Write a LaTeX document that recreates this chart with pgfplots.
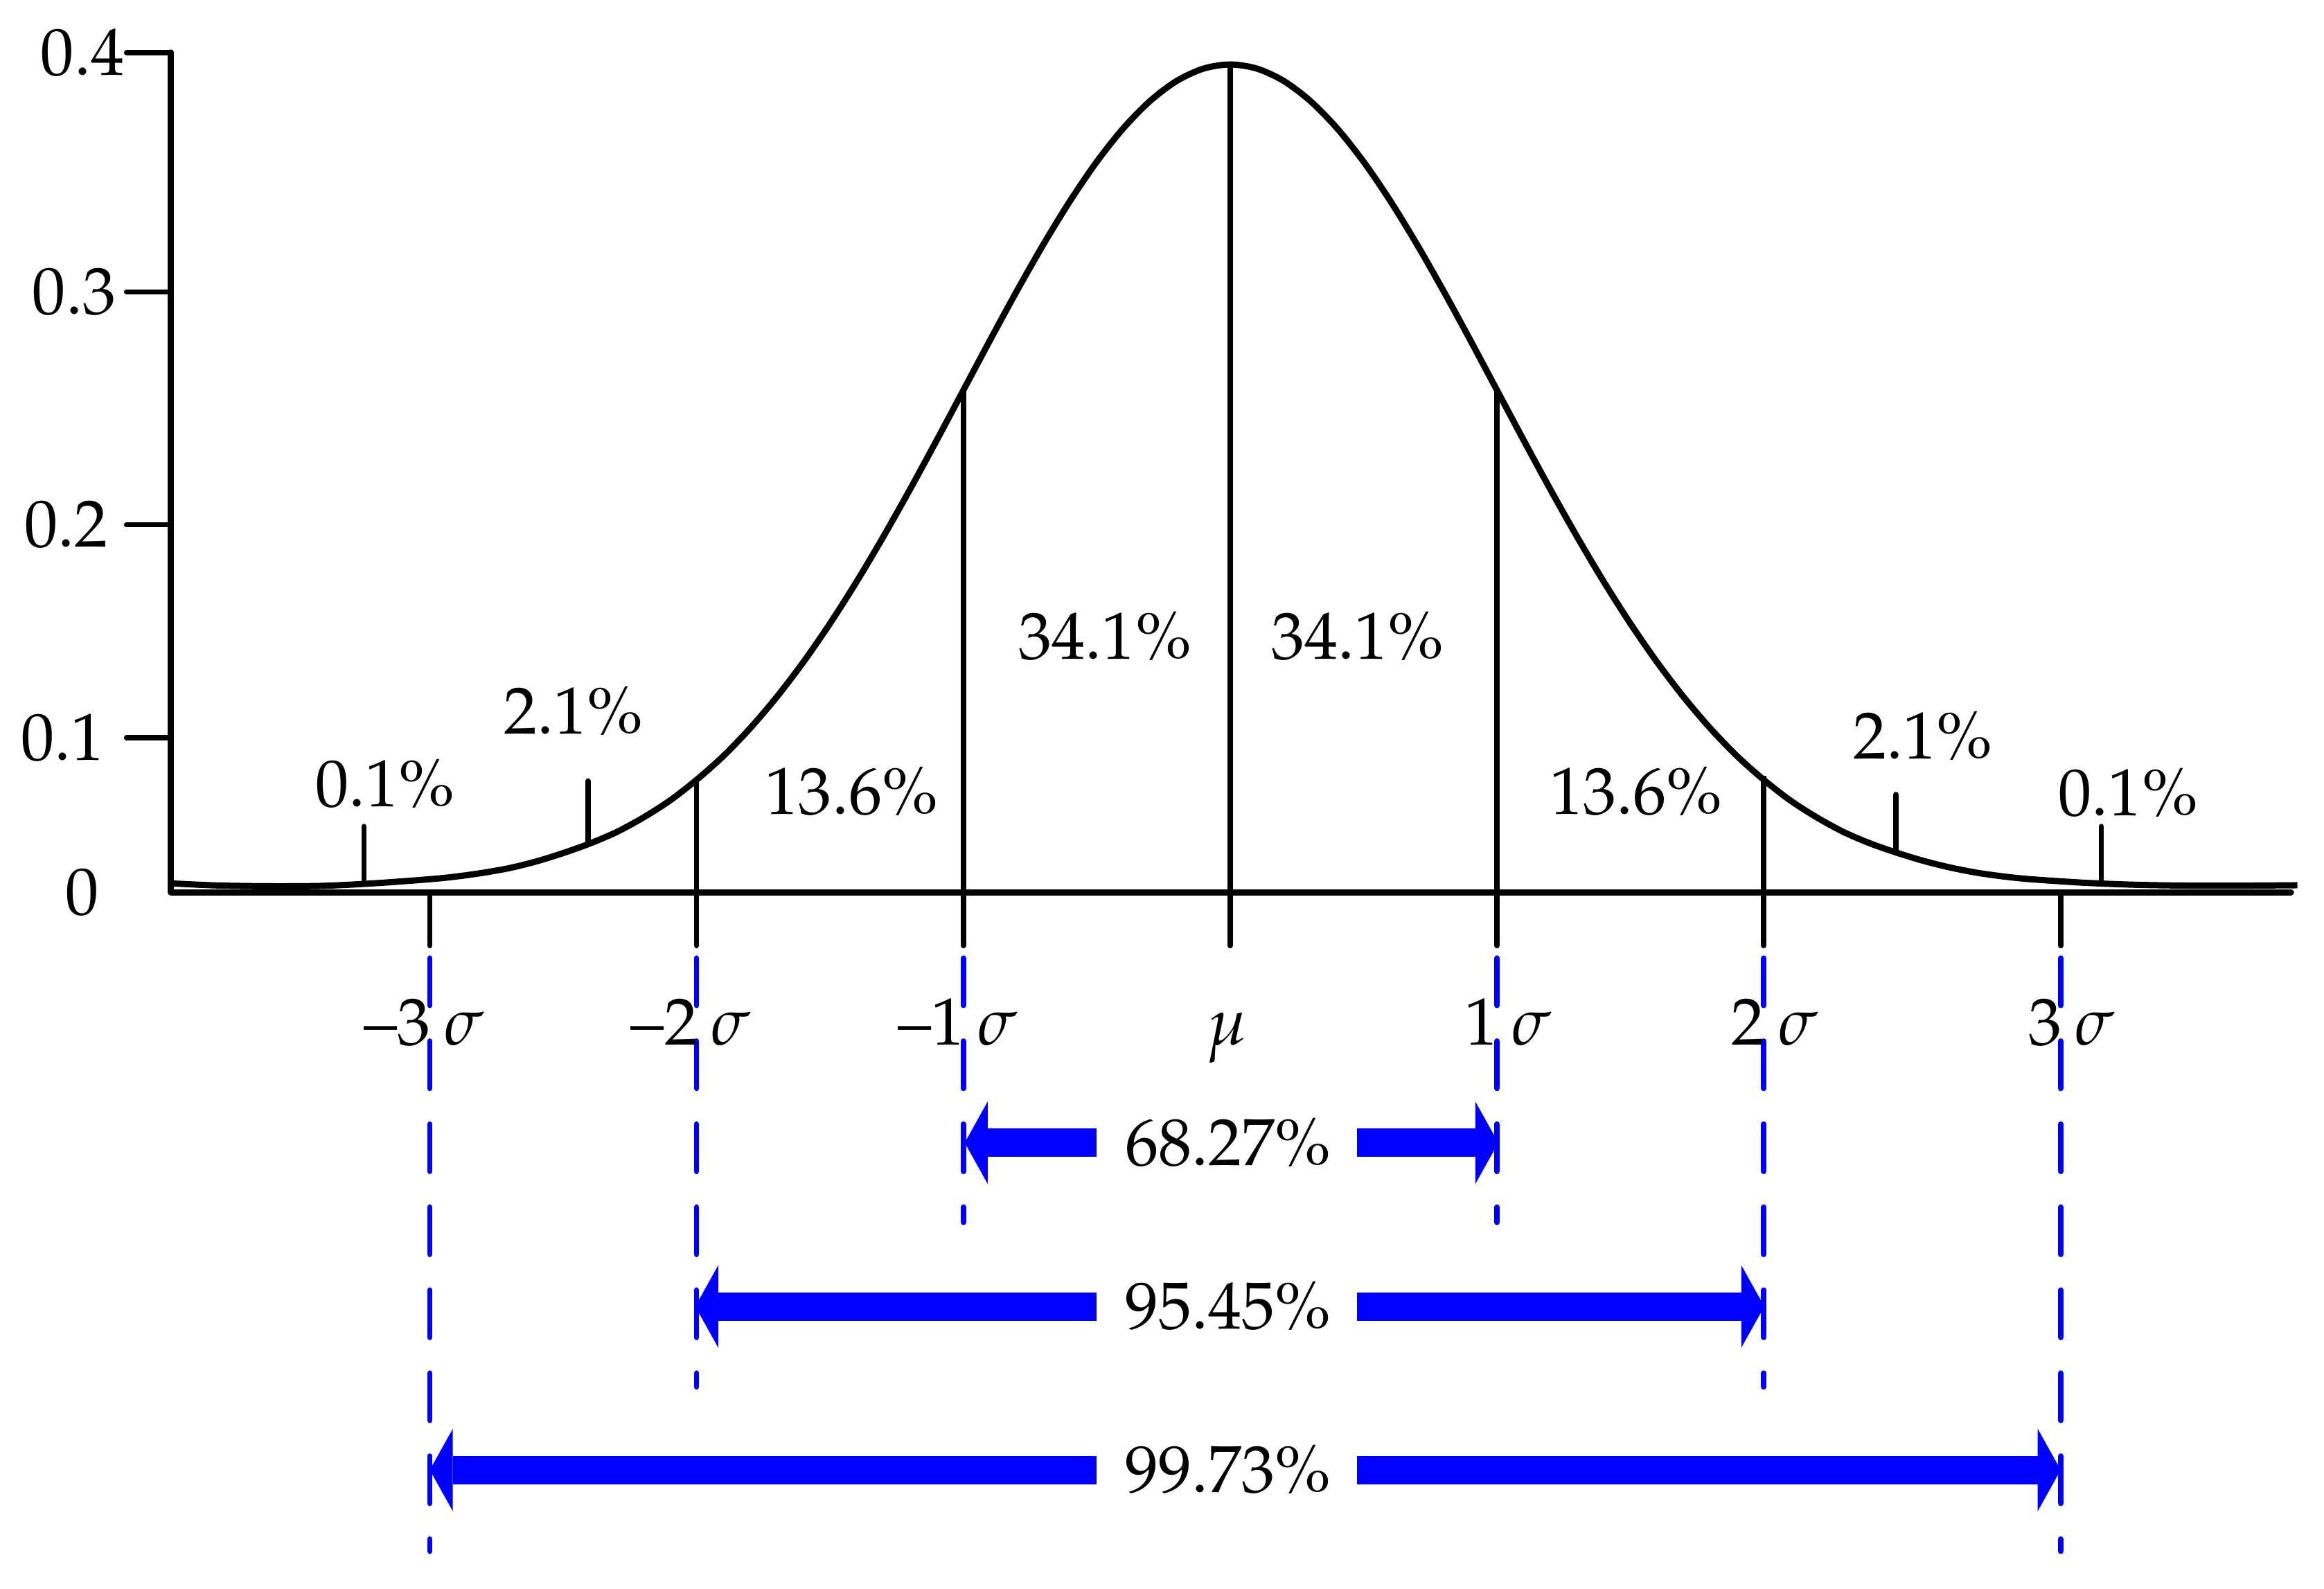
\documentclass[border=0pt]{standalone}
\usepackage[T1]{fontenc}
\usepackage{mathpazo}
\usepackage{pgfplots}
\pgfplotsset{compat=1.18}
\usetikzlibrary{arrows.meta}

\pgfplotstableread{
s y
-3.97 0.0043
-3.8 0.0033
-3.6 0.0029
-3.4 0.0031
-3.2 0.0044
-3.0 0.0063
-2.9 0.0076
-2.8 0.0094
-2.7 0.0117
-2.6 0.0149
-2.5 0.0189
-2.4 0.0235
-2.3 0.0290
-2.2 0.0360
-2.1 0.0442
-2.0 0.0542
-1.9 0.06562
-1.8 0.07895
-1.7 0.09405
-1.6 0.11092
-1.5 0.12952
-1.4 0.14973
-1.3 0.17137
-1.2 0.19419
-1.1 0.21785
-1.0 0.24197
-0.9 0.26609
-0.8 0.28969
-0.7 0.31225
-0.6 0.33322
-0.5 0.35207
-0.4 0.36827
-0.3 0.38139
-0.2 0.39104
-0.1 0.39695
0.0 0.39894
0.1 0.39695
0.2 0.39104
0.3 0.38139
0.4 0.36827
0.5 0.35207
0.6 0.33322
0.7 0.31225
0.8 0.28969
0.9 0.26609
1.0 0.24197
1.1 0.21785
1.2 0.19419
1.3 0.17137
1.4 0.14973
1.5 0.12952
1.6 0.11092
1.7 0.09405
1.8 0.07895
1.9 0.06562
2.0 0.0542
2.1 0.0442
2.2 0.0360
2.3 0.0290
2.4 0.0235
2.5 0.0190
2.6 0.0151
2.7 0.0119
2.8 0.0094
2.9 0.0076
3.0 0.0063
3.2 0.0046
3.4 0.0036
3.6 0.0032
3.8 0.0032
4.0 0.0034
}\curvetable

\begin{document}
\begin{tikzpicture}[font=\fontsize{12.8}{15.4}\selectfont]
\begin{axis}[
  scale only axis,
  width=143.03mm, height=56.66mm,
  xmin=-3.97, xmax=3.976, ymin=0, ymax=0.4047,
  axis lines=left,
  axis line style={-, line width=0.42mm, line cap=round},
  tick align=outside,
  xtick={-3,-2,-1,0,1,2,3.113},
  xticklabels={},
  ytick={0.0745,0.1771,0.2893,0.4047},
  yticklabels={},
  tick style={black, line width=0.36mm, line cap=round},
  xtick style={/pgfplots/major tick length=3.6mm},
  ytick style={/pgfplots/major tick length=3.0mm},
  minor tick num=0,
  clip=false,
]
% bell curve
\addplot[black, line width=0.42mm, smooth, line join=round] table[x=s, y=y] {\curvetable};
% vertical separators
\addplot[black, line width=0.36mm] coordinates {(0,0) (0,0.3989)};
\addplot[black, line width=0.36mm] coordinates {(-1,0) (-1,0.2420)};
\addplot[black, line width=0.36mm] coordinates {(1,0) (1,0.2420)};
\addplot[black, line width=0.36mm] coordinates {(-2,0) (-2,0.0550)};
\addplot[black, line width=0.36mm] coordinates {(2,0) (2,0.0560)};
% small pointer ticks
\addplot[black, line width=0.36mm, line cap=round] coordinates {(-3.247,0.0043) (-3.247,0.0317)};
\addplot[black, line width=0.36mm, line cap=round] coordinates {(-2.407,0.0236) (-2.407,0.0536)};
\addplot[black, line width=0.36mm, line cap=round] coordinates {(2.496,0.0202) (2.496,0.0471)};
\addplot[black, line width=0.36mm, line cap=round] coordinates {(3.265,0.0043) (3.265,0.0317)};
% blue dashed guides
\addplot[blue, line width=0.36mm, line cap=round, dash pattern=on 3.2mm off 2.4mm] coordinates {(-3,-0.0317) (-3,-0.3176)};
\addplot[blue, line width=0.36mm, line cap=round, dash pattern=on 3.2mm off 2.4mm] coordinates {(3.113,-0.0317) (3.113,-0.3176)};
\addplot[blue, line width=0.36mm, line cap=round, dash pattern=on 3.2mm off 2.4mm] coordinates {(-2,-0.0317) (-2,-0.2384)};
\addplot[blue, line width=0.36mm, line cap=round, dash pattern=on 3.2mm off 2.4mm] coordinates {(2,-0.0317) (2,-0.2384)};
\addplot[blue, line width=0.36mm, line cap=round, dash pattern=on 3.2mm off 2.4mm] coordinates {(-1,-0.0317) (-1,-0.1591)};
\addplot[blue, line width=0.36mm, line cap=round, dash pattern=on 3.2mm off 2.4mm] coordinates {(1,-0.0317) (1,-0.1591)};
% blue arrows
\addplot[blue, line width=1.92mm, -{Triangle[width=5.56mm, length=1.55mm, line width=0pt]}] coordinates {(-0.501,-0.1207) (-0.995,-0.1207)};
\addplot[blue, line width=1.92mm, -{Triangle[width=5.56mm, length=1.55mm, line width=0pt]}] coordinates {(0.475,-0.1207) (1.005,-0.1207)};
\addplot[blue, line width=1.92mm, -{Triangle[width=5.56mm, length=1.55mm, line width=0pt]}] coordinates {(-0.501,-0.1996) (-2.005,-0.1996)};
\addplot[blue, line width=1.92mm, -{Triangle[width=5.56mm, length=1.55mm, line width=0pt]}] coordinates {(0.475,-0.1996) (2.002,-0.1996)};
\addplot[blue, line width=1.92mm, -{Triangle[width=5.56mm, length=1.55mm, line width=0pt]}] coordinates {(-0.501,-0.2784) (-3.0,-0.2784)};
\addplot[blue, line width=1.92mm, -{Triangle[width=5.56mm, length=1.55mm, line width=0pt]}] coordinates {(0.475,-0.2784) (3.113,-0.2784)};
% arrow labels
\node at (axis cs:-0.008,-0.1207) {68.27\%};
\node at (axis cs:-0.008,-0.1996) {95.45\%};
\node at (axis cs:-0.008,-0.2784) {99.73\%};
% area percentages
\node[anchor=base] at (axis cs:-3.167,0.0414) {0.1\%};
\node[anchor=base] at (axis cs:-2.461,0.0764) {2.1\%};
\node[anchor=base] at (axis cs:-1.419,0.0375) {13.6\%};
\node[anchor=base] at (axis cs:-0.469,0.1123) {34.1\%};
\node[anchor=base] at (axis cs:0.478,0.1123) {34.1\%};
\node[anchor=base] at (axis cs:1.522,0.0375) {13.6\%};
\node[anchor=base] at (axis cs:2.597,0.0643) {2.1\%};
\node[anchor=base] at (axis cs:3.366,0.0371) {0.1\%};
% y tick labels
\node[anchor=east, inner sep=0pt] at (axis cs:-3.97,0) [xshift=-4.82mm] {0};
\node[anchor=east, inner sep=0pt] at (axis cs:-3.97,0.0745) [xshift=-4.44mm] {0.1};
\node[anchor=east, inner sep=0pt] at (axis cs:-3.97,0.1771) [xshift=-4.19mm] {0.2};
\node[anchor=east, inner sep=0pt] at (axis cs:-3.97,0.2893) [xshift=-3.65mm] {0.3};
\node[anchor=east, inner sep=0pt] at (axis cs:-3.97,0.4047) [xshift=-3.09mm] {0.4};
% x tick labels
\node[anchor=base west, inner sep=0pt] at (axis cs:-3,-0.0736) {\llap{--3}\hspace{0.2em}$\sigma$};
\node[anchor=base west, inner sep=0pt] at (axis cs:-2,-0.0736) {\llap{--2}\hspace{0.2em}$\sigma$};
\node[anchor=base west, inner sep=0pt] at (axis cs:-1,-0.0736) {\llap{--1}\hspace{0.2em}$\sigma$};
\node[anchor=base, inner sep=0pt] at (axis cs:-0.011,-0.0736) {$\mu$};
\node[anchor=base west, inner sep=0pt] at (axis cs:1,-0.0736) {\llap{1}\hspace{0.2em}$\sigma$};
\node[anchor=base west, inner sep=0pt] at (axis cs:2,-0.0736) {\llap{2}\hspace{0.2em}$\sigma$};
\node[anchor=base west, inner sep=0pt] at (axis cs:3.113,-0.0736) {\llap{3}\hspace{0.2em}$\sigma$};
% bounding box corners
\coordinate (bbsw) at (axis cs:-4.6111,-0.3357);
\coordinate (bbne) at (axis cs:4.1,0.43);
\end{axis}
\pgfresetboundingbox
\useasboundingbox (bbsw) rectangle (bbne);
\end{tikzpicture}
\end{document}
